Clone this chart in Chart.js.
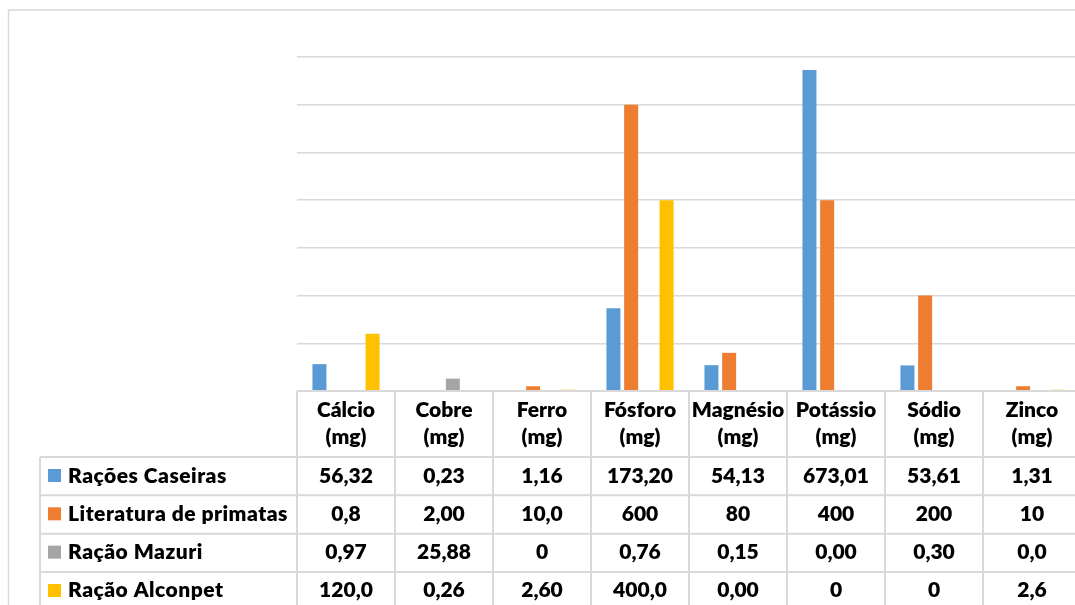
<!DOCTYPE html>
<html lang="pt">
<head>
<meta charset="utf-8">
<title>Minerais nas rações</title>
<script src="https://cdn.jsdelivr.net/npm/chart.js@4/dist/chart.umd.min.js"></script>
<style>
  html, body { margin: 0; padding: 0; background: #fff; overflow: hidden; }
  #wrap { position: relative; width: 1090px; height: 605px; }
</style>
</head>
<body>
<div id="wrap"><canvas id="chart"></canvas></div>
<script>
// Nutrients (columns of the data table) and their unit
const nutrients = ['Cálcio', 'Cobre', 'Ferro', 'Fósforo', 'Magnésio', 'Potássio', 'Sódio', 'Zinco'];
const unit = '(mg)';

// Series
const seriesNames = ['Rações Caseiras', 'Literatura de primatas', 'Ração Mazuri', 'Ração Alconpet'];
const racoesCaseiras     = [56.32, 0.23, 1.16, 173.20, 54.13, 673.01, 53.61, 1.31];
const literaturaPrimatas = [0.8, 2.00, 10.0, 600, 80, 400, 200, 10];
const racaoMazuri        = [0.97, 25.88, 0, 0.76, 0.15, 0.00, 0.30, 0.0];
const racaoAlconpet      = [120.0, 0.26, 2.60, 400.0, 0.00, 0, 0, 2.6];

// Decimal places printed in the data table for each series
const casasCaseiras   = [2, 2, 2, 2, 2, 2, 2, 2];
const casasLiteratura = [1, 2, 1, 0, 0, 0, 0, 0];
const casasMazuri     = [2, 2, 0, 2, 2, 2, 2, 1];
const casasAlconpet   = [1, 2, 2, 1, 2, 0, 0, 1];

// Value axis (labels hidden, gridlines only)
const yMin = 0, yMax = 700, yStep = 100;

const seriesColors = ['#5B9BD5', '#ED7D31', '#A5A5A5', '#FFC000'];
const LINE = '#d9d9d9';
const FONT = '800 21px Lato';

function fmt(v, casas) {
  return v.toFixed(casas).replace('.', ',');
}

const seriesValues = [racoesCaseiras, literaturaPrimatas, racaoMazuri, racaoAlconpet];
const seriesCasas = [casasCaseiras, casasLiteratura, casasMazuri, casasAlconpet];

// Draws the outer frame and the data table under the plot
const dataTable = {
  id: 'dataTable',
  beforeDraw(chart) {
    const ctx = chart.ctx;
    ctx.save();
    ctx.strokeStyle = LINE;
    ctx.lineWidth = 1.5;
    ctx.beginPath();
    ctx.moveTo(8.5, chart.height);
    ctx.lineTo(8.5, 10);
    ctx.lineTo(chart.width, 10);
    ctx.stroke();
    ctx.restore();
  },
  afterDraw(chart) {
    const { ctx, chartArea: a, scales: { x } } = chart;
    const n = chart.data.labels.length;
    const cw = (a.right - a.left) / n;
    const headerH = 66, rowH = 38.33, legendLeft = 40;
    const top = a.bottom, rowsTop = top + headerH;

    ctx.save();
    ctx.strokeStyle = LINE;
    ctx.lineWidth = 2;
    ctx.beginPath();
    ctx.moveTo(a.left, top); ctx.lineTo(a.right, top);
    for (let r = 0; r <= chart.data.datasets.length; r++) {
      const y = rowsTop + r * rowH;
      ctx.moveTo(legendLeft, y); ctx.lineTo(a.right, y);
    }
    for (let i = 0; i <= n; i++) {
      const xx = a.left + i * cw;
      ctx.moveTo(xx, top); ctx.lineTo(xx, chart.height);
    }
    ctx.moveTo(legendLeft, rowsTop); ctx.lineTo(legendLeft, chart.height);
    ctx.stroke();

    // Column headers
    ctx.fillStyle = '#000';
    ctx.font = FONT;
    ctx.textAlign = 'center';
    ctx.textBaseline = 'alphabetic';
    chart.data.labels.forEach((lab, i) => {
      const cx = x.getPixelForValue(i);
      ctx.fillText(lab[0], cx, top + 26);
      ctx.fillText(lab[1], cx, top + 53);
    });

    // Rows: legend key, series name, values
    chart.data.datasets.forEach((ds, r) => {
      const y0 = rowsTop + r * rowH;
      ctx.fillStyle = ds.backgroundColor;
      ctx.fillRect(48, y0 + 12, 13, 13);
      ctx.fillStyle = '#000';
      ctx.textAlign = 'left';
      ctx.letterSpacing = '0.5px';
      ctx.fillText(ds.label, 68, y0 + 25.5);
      ctx.letterSpacing = '0px';
      ctx.textAlign = 'center';
      ds.data.forEach((v, i) => {
        ctx.fillText(fmt(v, seriesCasas[r][i]), x.getPixelForValue(i), y0 + 25.5);
      });
    });
    ctx.restore();
  }
};

const datasets = seriesNames.map((name, k) => ({
  label: name,
  data: seriesValues[k],
  backgroundColor: seriesColors[k],
  borderWidth: 0,
  barPercentage: 0.79,
  categoryPercentage: 0.7227
}));

new Chart(document.getElementById('chart'), {
  type: 'bar',
  data: {
    labels: nutrients.map(nm => [nm, unit]),
    datasets
  },
  options: {
    responsive: true,
    maintainAspectRatio: false,
    animation: false,
    layout: { padding: { top: 57, left: 297, right: 9, bottom: 214 } },
    plugins: {
      legend: { display: false },
      tooltip: { enabled: false }
    },
    scales: {
      x: { display: false },
      y: {
        min: yMin,
        max: yMax,
        ticks: { display: false, stepSize: yStep },
        grid: { color: LINE, lineWidth: 1.5, drawTicks: false },
        border: { display: false }
      }
    }
  },
  plugins: [dataTable]
});
</script>
</body>
</html>
